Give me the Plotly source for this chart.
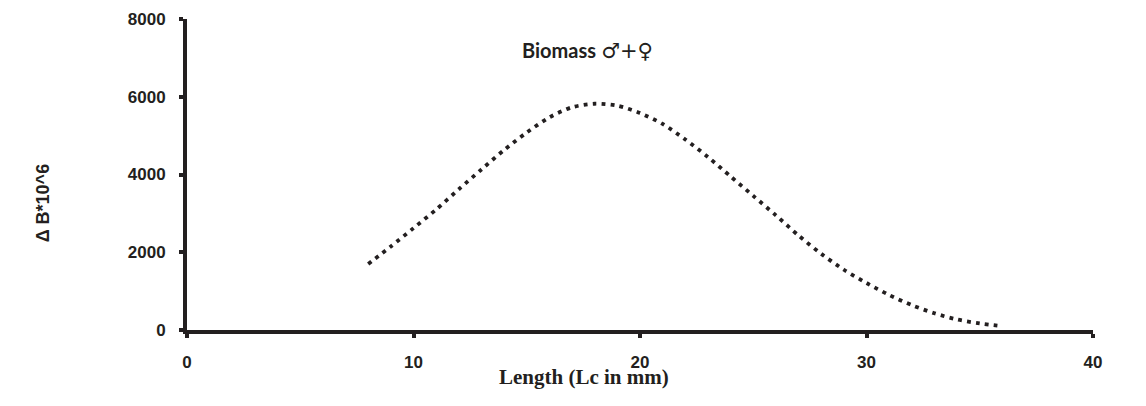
import plotly.graph_objects as go

# Biomass curve
length_mm = [8, 9, 10, 11, 12, 13, 14, 15, 16, 17, 18, 19, 20, 21, 22,
             23, 24, 25, 26, 27, 28, 29, 30, 31, 32, 33, 34, 35, 36]
delta_b = [1700, 2150, 2620, 3100, 3620, 4130, 4630, 5080, 5470, 5730, 5820,
           5770, 5580, 5300, 4900, 4450, 3950, 3450, 2950, 2430, 1960, 1550,
           1210, 900, 640, 430, 270, 170, 100]

x_ticks = [0, 10, 20, 30, 40]
y_ticks = [0, 2000, 4000, 6000, 8000]

ink = "#231f20"

fig = go.Figure()

fig.add_trace(go.Scatter(
    x=length_mm, y=delta_b,
    mode="lines",
    line=dict(color=ink, width=3.8, dash="3.8px,5.2px", shape="spline", smoothing=0.8),
    showlegend=False,
    hoverinfo="skip",
))

axis_common = dict(
    showgrid=False, zeroline=False, automargin=False,
    showline=True, linecolor=ink, linewidth=4,
    ticks="outside", ticklen=4, tickwidth=4, tickcolor=ink,
    tickfont=dict(family="Liberation Sans, Arial", size=17, color=ink, weight="bold"),
)

fig.update_xaxes(range=[0, 40], tickvals=x_ticks, ticklabelstandoff=10, **axis_common)
fig.update_yaxes(range=[0, 8000], tickvals=y_ticks, ticklabelstandoff=10, **axis_common)

title_text = ('<b>Biomass</b> <span style="font-family:DejaVu Sans;font-size:21px">'
              '\u2642\ufe0e+\u2640\ufe0e</span>')

# figure sized to sit inside the window together with the page's 8px body margin
fig.update_layout(
    width=1130, height=390,
    margin=dict(l=179, r=45, t=11, b=68),
    plot_bgcolor="white", paper_bgcolor="white",
    annotations=[
        dict(text=title_text, x=0.4426, y=0.90, xanchor="center", yanchor="middle",
             xref="paper", yref="paper", showarrow=False,
             font=dict(family="Lato, Noto Sans", size=20, color=ink)),
        dict(text="<b>Length (Lc in mm)</b>", x=0.438, y=-0.151,
             xanchor="center", yanchor="middle",
             xref="paper", yref="paper", showarrow=False,
             font=dict(family="Liberation Serif, Times New Roman", size=21, color=ink)),
        dict(text="<b>Δ B*10^6</b>", x=-0.158, y=0.41, textangle=-90,
             xanchor="center", yanchor="middle",
             xref="paper", yref="paper", showarrow=False,
             font=dict(family="Liberation Sans, Arial", size=18, color=ink)),
    ],
)

fig.write_html("out.html")
